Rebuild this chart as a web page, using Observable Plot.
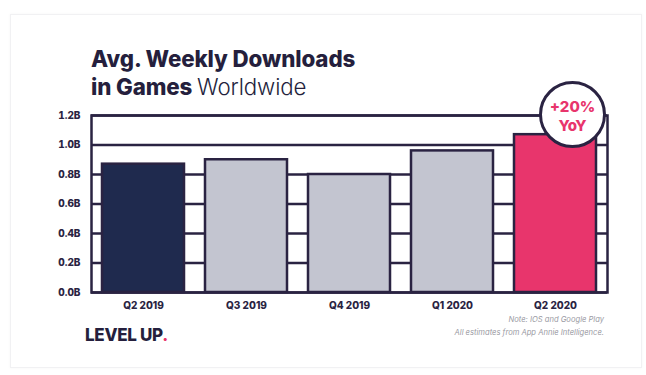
<!DOCTYPE html>
<html>
<head>
<meta charset="utf-8">
<script src="https://cdn.jsdelivr.net/npm/d3@7"></script>
<script src="https://cdn.jsdelivr.net/npm/@observablehq/plot@0.6"></script>
<style>
  html, body { margin: 0; padding: 0; background: #ffffff; }
  #wrap { position: relative; width: 646px; height: 375px; overflow: hidden; background: #fff; font-family: Inter, "Noto Sans", sans-serif; }
  #card { position: absolute; left: 10px; top: 14px; width: 630px; height: 352px; border: 1px solid #f1f1f3; box-shadow: 0 0 3px rgba(0,0,0,0.04); }
  #chart { position: absolute; left: 0; top: 0; }
  .title { position: absolute; left: 91px; color: #251f3d; font-size: 22.3px; letter-spacing: -0.1px; white-space: nowrap; }
  .t1 { top: 45px; font-weight: 800; }
  .t2 { top: 73px; font-weight: 800; }
  .t2 .light { font-weight: 300; }
  #logo { position: absolute; left: 85px; top: 325px; font-size: 17px; font-weight: 800; color: #251f3d; letter-spacing: -0.3px; }
  #logo span { color: #e8336b; }
  #note { position: absolute; right: 42px; top: 314px; text-align: right; font-size: 7.6px; font-style: italic; color: #9a9aa3; line-height: 12.5px; }
</style>
</head>
<body>
<div id="wrap">
  <div id="card"></div>
  <div id="chart"></div>
  <div class="title t1">Avg. Weekly Downloads</div>
  <div class="title t2">in Games <span class="light">Worldwide</span></div>
  <div id="logo">LEVEL UP<span>.</span></div>
  <div id="note">Note: IOS and Google Play<br>All estimates from App Annie Intelligence.</div>
</div>
<script>
const quarters = ["Q2 2019", "Q3 2019", "Q4 2019", "Q1 2020", "Q2 2020"];
const downloads = [0.87, 0.90, 0.80, 0.96, 1.07]; // billions
const barColors = ["#1f2a4e", "#c3c5d0", "#c3c5d0", "#c3c5d0", "#e8356c"];
const yTicks = [0, 0.2, 0.4, 0.6, 0.8, 1.0, 1.2];
const badgeQuarter = "Q2 2020";
const badgeY = 1.2;
const badgeText = "+20%\nYoY";

const ink = "#2a2342";
const data = quarters.map((q, i) => ({q, v: downloads[i], c: barColors[i]}));

const plot = Plot.plot({
  width: 646,
  height: 375,
  marginLeft: 91,
  marginRight: 39,
  marginTop: 115,
  marginBottom: 83,
  style: {background: "transparent", fontFamily: "Inter, 'Noto Sans', sans-serif"},
  x: {domain: quarters, paddingInner: 0.2, paddingOuter: 0.1, label: null},
  y: {domain: [0, 1.2], label: null},
  marks: [
    Plot.ruleY(yTicks, {stroke: ink, strokeWidth: 2.5}),
    Plot.barY(data, {x: "q", y: "v", fill: "c", stroke: ink, strokeWidth: 2.5}),
    Plot.frame({stroke: ink, strokeWidth: 2.5}),
    Plot.axisY({ticks: yTicks, tickSize: 0, tickPadding: 11, tickFormat: d => d.toFixed(1) + "B", fontSize: 10, fontWeight: 800, fill: ink}),
    Plot.axisX({tickSize: 0, tickPadding: 9, fontSize: 10, fontWeight: 800, fill: ink}),
    Plot.dot([{q: badgeQuarter, y: badgeY}], {x: "q", y: "y", r: 32, dx: 17, dy: -1, fill: "white", stroke: ink, strokeWidth: 3}),
    Plot.text([{q: badgeQuarter, y: badgeY, t: badgeText}], {x: "q", y: "y", text: "t", dx: 17, dy: 0, lineHeight: 1.25, fill: "#e8356c", fontSize: 15, fontWeight: 800})
  ]
});
document.getElementById("chart").appendChild(plot);
</script>
</body>
</html>
